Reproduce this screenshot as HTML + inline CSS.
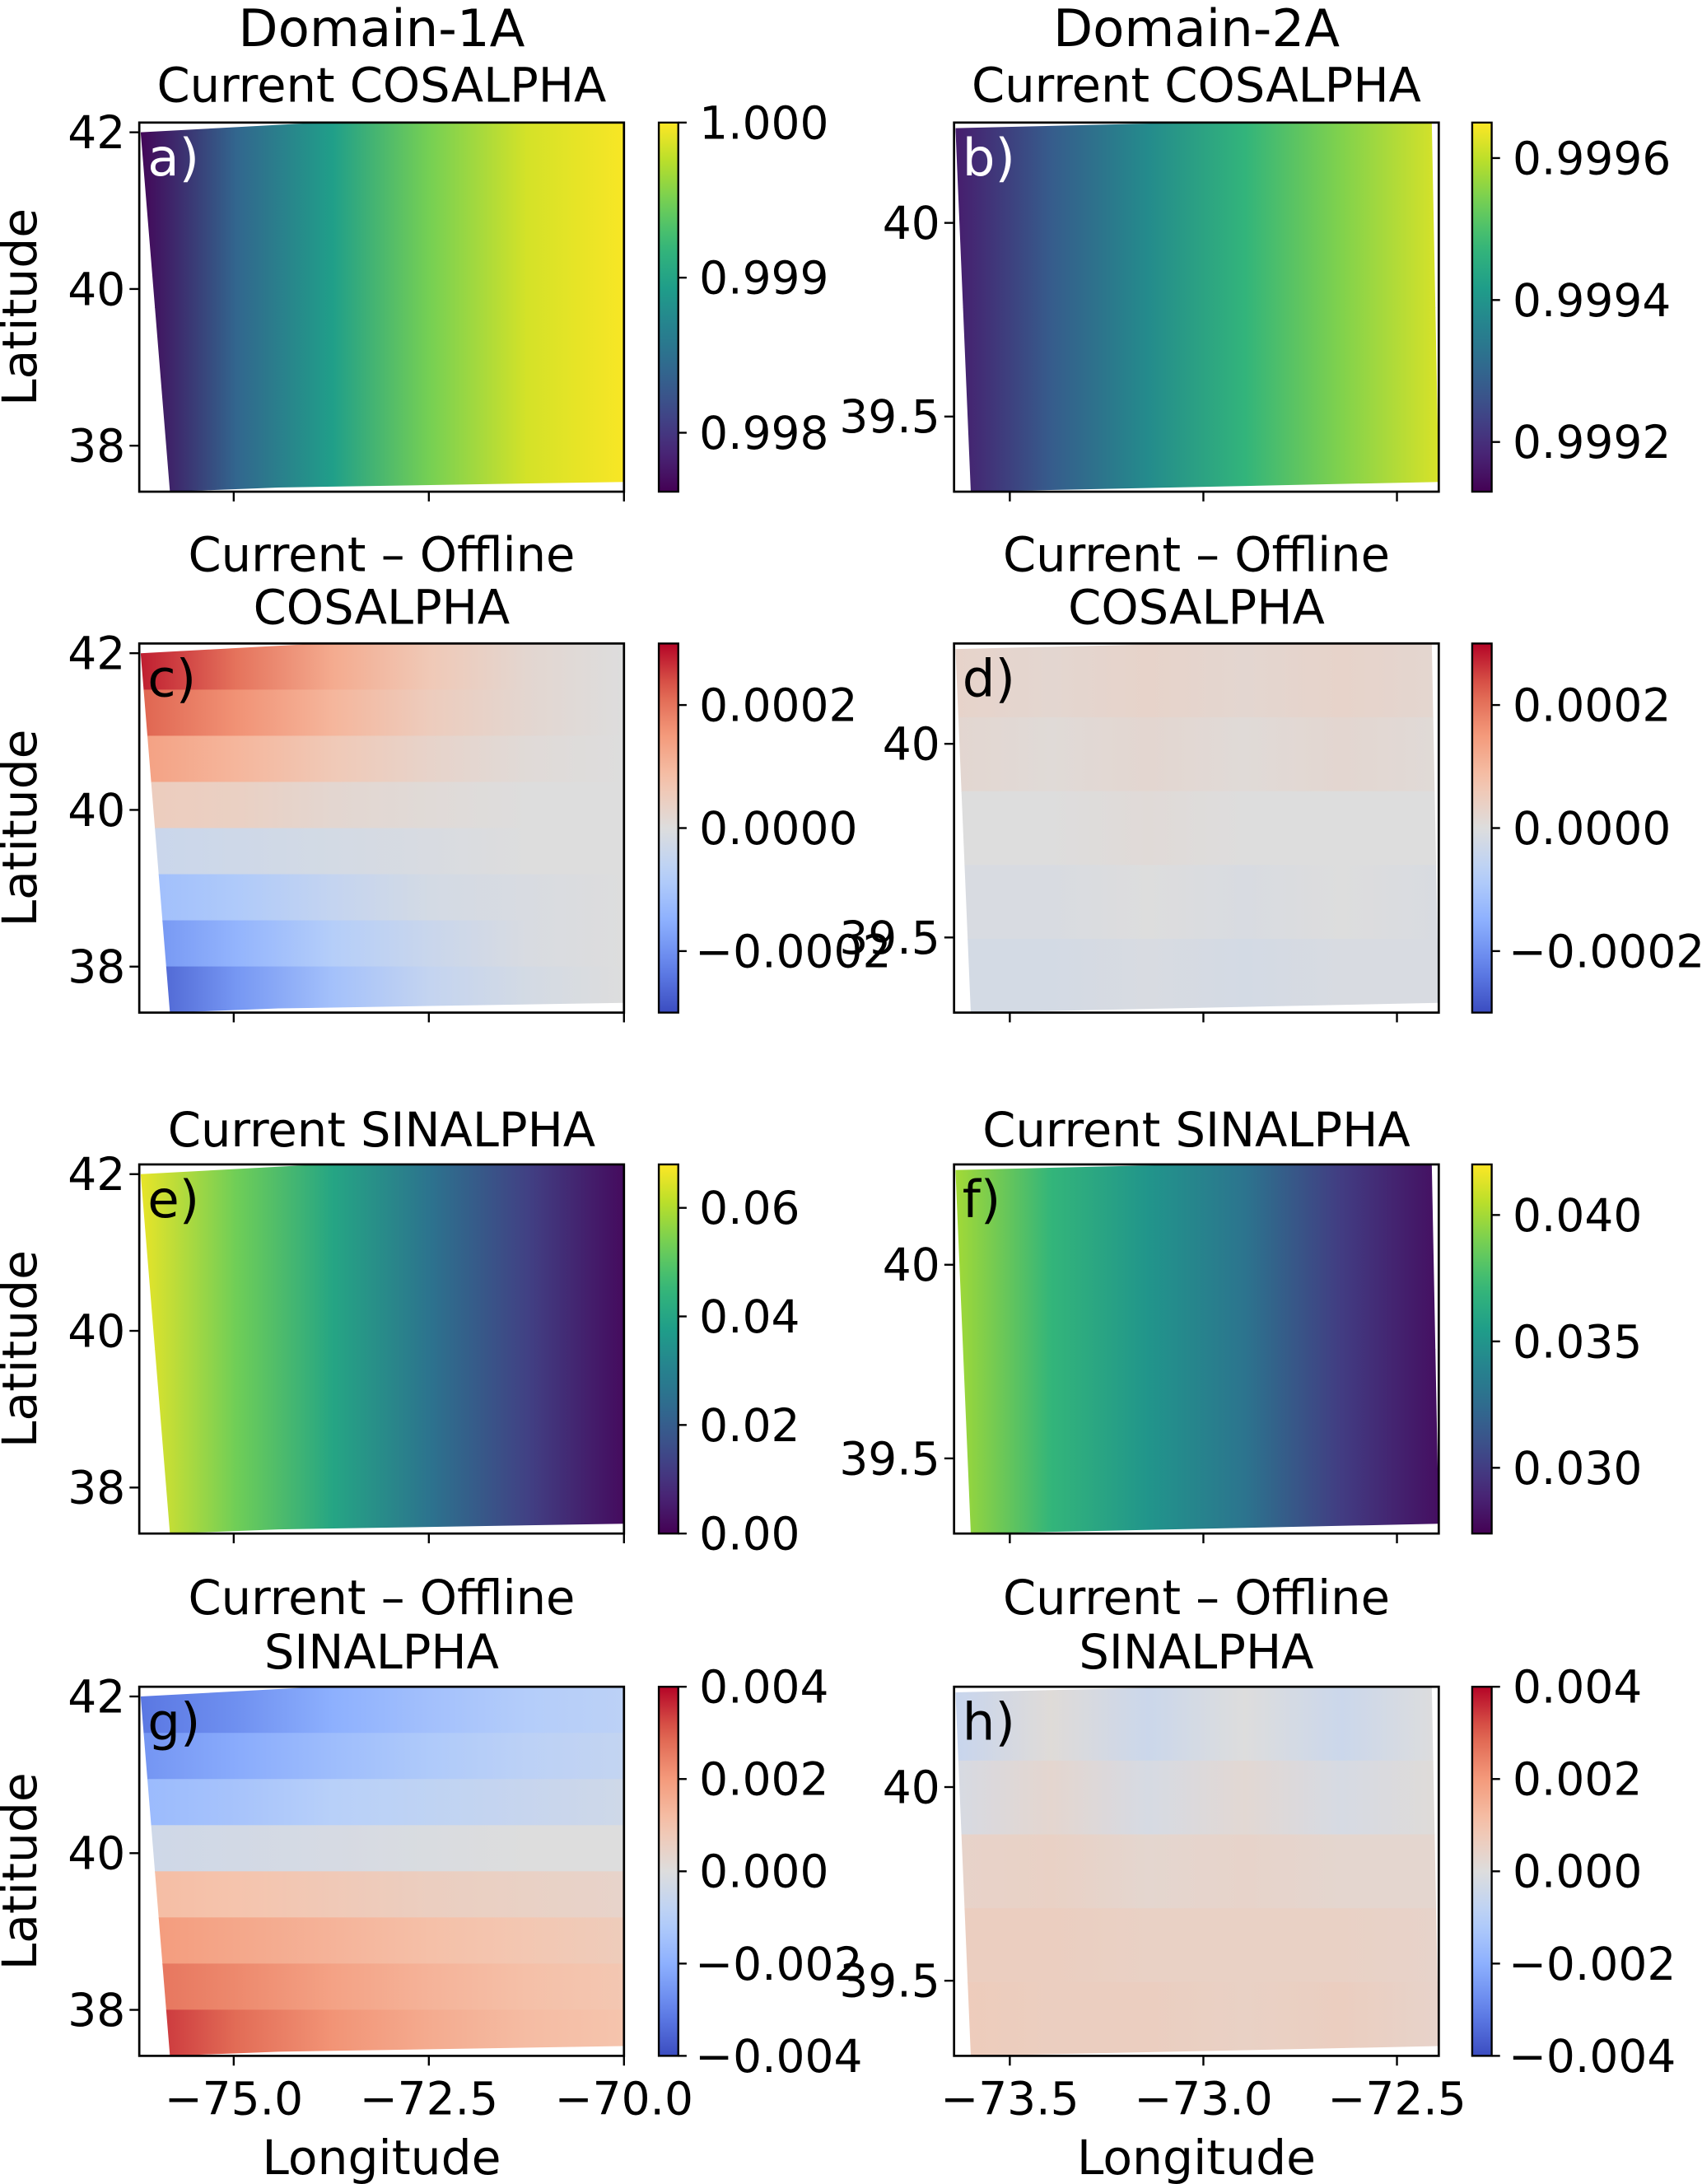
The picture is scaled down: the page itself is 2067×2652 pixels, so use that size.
<!DOCTYPE html>
<html><head><meta charset="utf-8">
<style>
html,body{margin:0;padding:0;background:#fff;}
svg{display:block;}
text{font-family:"DejaVu Sans","Liberation Sans",sans-serif;}
</style></head>
<body>
<svg id="fig" xmlns="http://www.w3.org/2000/svg" width="2067" height="2652" viewBox="0 0 1222 1568" preserveAspectRatio="none">
<defs id="defs"></defs>
<g id="root"></g>
</svg>
<script>
// ---- data (rows = latitude bands top→bottom, cols = longitude stops left→right) ----
const valsA = [[0.99765,0.99840,0.99895,0.99950,0.99985,0.99998],[0.99765,0.99840,0.99895,0.99950,0.99985,0.99998]];
const valsB = [[0.99917,0.99928,0.99938,0.99947,0.99955,0.99962],[0.99917,0.99928,0.99938,0.99947,0.99955,0.99962]];
const valsC = [[0.00028,0.00020,0.00012,0.00006,0.00002,0.0],[0.00022,0.00016,0.00010,0.00005,0.00002,0.0],[0.00014,0.00010,0.00006,0.00003,0.00001,0.0],[0.00005,0.00004,0.00002,0.00001,0.0,0.0],[-0.00004,-0.00003,-0.00002,-0.00001,0.0,0.0],[-0.00012,-0.00009,-0.00005,-0.00002,-0.00001,0.0],[-0.00020,-0.00014,-0.00008,-0.00004,-0.00001,0.0],[-0.00028,-0.00019,-0.00011,-0.00005,-0.00002,0.0]];
const valsD = [[0.00003,0.00002,0.00003,0.00002,0.00003,0.00002],[0.00002,0.00001,0.00002,0.00001,0.00002,0.00001],[0.0,0.0,0.00001,0.0,0.0,0.0],[-0.00001,-0.00001,0.0,-0.00001,0.0,-0.00001],[-0.00002,-0.00002,-0.00001,-0.00002,-0.00001,-0.00001]];
const valsE = [[0.066,0.053,0.040,0.026,0.013,0.002],[0.066,0.053,0.040,0.026,0.013,0.002]];
const valsF = [[0.040,0.037,0.035,0.033,0.030,0.028],[0.040,0.037,0.035,0.033,0.030,0.028]];
const valsG = [[-0.0032,-0.0027,-0.0020,-0.0015,-0.0011,-0.0009],[-0.0026,-0.0021,-0.0016,-0.0012,-0.0009,-0.0007],[-0.0017,-0.0014,-0.0010,-0.0008,-0.0006,-0.0004],[-0.0004,-0.0003,-0.0002,-0.0001,0.0,0.0],[0.0012,0.0010,0.0008,0.0006,0.0005,0.0004],[0.0020,0.0017,0.0014,0.0011,0.0009,0.0007],[0.0027,0.0023,0.0018,0.0014,0.0011,0.0009],[0.0036,0.0028,0.0021,0.0016,0.0012,0.0010]];
const valsH = [[-0.0006,0.0001,-0.0005,0.0000,-0.0005,0.0000],[-0.0002,0.0003,-0.0002,0.0002,-0.0002,0.0001],[0.0004,0.0005,0.0003,0.0004,0.0003,0.0003],[0.0006,0.0006,0.0005,0.0005,0.0005,0.0004],[0.0007,0.0006,0.0006,0.0005,0.0006,0.0004]];
// ticks
const lonTicks1 = [-75.0,-72.5,-70.0];
const lonTickLabels1 = ["\u221275.0","\u221272.5","\u221270.0"];
const lonTicks2 = [-73.5,-73.0,-72.5];
const lonTickLabels2 = ["\u221273.5","\u221273.0","\u221272.5"];
const latTicks1 = [42,40,38];
const latTicks2 = [40,39.5];
const latTickLabels2 = ["40","39.5"];
const cbTicksA = [1.000,0.999,0.998]; const cbLabA = ["1.000","0.999","0.998"];
const cbTicksB = [0.9996,0.9994,0.9992]; const cbLabB = ["0.9996","0.9994","0.9992"];
const cbTicksCD = [0.0002,0.0,-0.0002]; const cbLabCD = ["0.0002","0.0000","\u22120.0002"];
const cbTicksE = [0.06,0.04,0.02,0.00]; const cbLabE = ["0.06","0.04","0.02","0.00"];
const cbTicksF = [0.040,0.035,0.030]; const cbLabF = ["0.040","0.035","0.030"];
const cbTicksGH = [0.004,0.002,0.0,-0.002,-0.004]; const cbLabGH = ["0.004","0.002","0.000","\u22120.002","\u22120.004"];

// ---- colormaps ----
const viridis=[[68,1,84],[72,40,120],[62,74,137],[49,104,142],[38,130,142],[31,158,137],[53,183,121],[110,206,88],[181,222,43],[253,231,37]];
const coolwarm=[[59,76,192],[98,130,234],[141,176,254],[184,208,249],[221,221,221],[245,196,173],[244,154,123],[222,96,77],[180,4,38]];
function cmap(stops,t){t=Math.max(0,Math.min(1,t));const n=stops.length-1;const f=t*n;const i=Math.min(n-1,Math.floor(f));const r=f-i;
const a=stops[i],b=stops[i+1];return `rgb(${Math.round(a[0]+(b[0]-a[0])*r)},${Math.round(a[1]+(b[1]-a[1])*r)},${Math.round(a[2]+(b[2]-a[2])*r)})`;}

const NS="http://www.w3.org/2000/svg";
const root=document.getElementById('root');const defs=document.getElementById('defs');
function el(tag,attrs,parent){const e=document.createElementNS(NS,tag);for(const k in attrs)e.setAttribute(k,attrs[k]);(parent||root).appendChild(e);return e;}
function txt(s,x,y,size,anchor,parent,fill){const t=el('text',{x:x,y:y,'font-size':size,'text-anchor':anchor||'middle'},parent);t.style.fill=fill||'#000';t.textContent=s;return t;}

const colL=[100,685], AW=348, rowT=[88,462,836,1211], AH=265;
const lonRange=[[-76.21,-70.0],[-73.644,-72.392]];
const latRange=[[42.124,37.413],[40.259,39.306]];
const cbX=[473,1057], cbW=14;
const TF=32.5;
function xScale(c,lon){return colL[c]+(lon-lonRange[c][0])/(lonRange[c][1]-lonRange[c][0])*AW;}
function yScale(c,r,lat){return rowT[r]+(lat-latRange[c][0])/(latRange[c][1]-latRange[c][0])*AH;}

const panels=[
 {id:'a',c:0,r:0,vals:valsA,cm:viridis,vmin:0.99762,vmax:1.0,ticks:cbTicksA,labs:cbLabA,white:true},
 {id:'b',c:1,r:0,vals:valsB,cm:viridis,vmin:0.99913,vmax:0.99965,ticks:cbTicksB,labs:cbLabB,white:true},
 {id:'c',c:0,r:1,vals:valsC,cm:coolwarm,vmin:-0.0003,vmax:0.0003,ticks:cbTicksCD,labs:cbLabCD},
 {id:'d',c:1,r:1,vals:valsD,cm:coolwarm,vmin:-0.0003,vmax:0.0003,ticks:cbTicksCD,labs:cbLabCD},
 {id:'e',c:0,r:2,vals:valsE,cm:viridis,vmin:0.0,vmax:0.068,ticks:cbTicksE,labs:cbLabE},
 {id:'f',c:1,r:2,vals:valsF,cm:viridis,vmin:0.0274,vmax:0.042,ticks:cbTicksF,labs:cbLabF},
 {id:'g',c:0,r:3,vals:valsG,cm:coolwarm,vmin:-0.004,vmax:0.004,ticks:cbTicksGH,labs:cbLabGH},
 {id:'h',c:1,r:3,vals:valsH,cm:coolwarm,vmin:-0.004,vmax:0.004,ticks:cbTicksGH,labs:cbLabGH}
];
const clipShapes=[[[1,7],[130,0],[348,0],[348,258],[100,262],[22,265]],[[1,4],[170,0],[343,0],[348,258],[12,265]]];

panels.forEach(p=>{
  const x0=colL[p.c], y0=rowT[p.r];
  const g=el('g',{});
  
  
  const cp=el('clipPath',{id:'clip-'+p.id},defs);
  el('polygon',{points:clipShapes[p.c].map(q=>(x0+q[0])+','+(y0+q[1])).join(' ')},cp);
  const hm=el('g',{'clip-path':'url(#clip-'+p.id+')'},g);
  
  
  const nb=p.vals.length;
  const lr=lonRange[p.c], la=latRange[p.c];
  p.vals.forEach((row,i)=>{
    const gid='grad-'+p.id+'-'+i;
    const lg=el('linearGradient',{id:gid,x1:'0',y1:'0',x2:'1',y2:'0'},defs);
    row.forEach((v,j)=>{el('stop',{offset:(j/(row.length-1)),'stop-color':cmap(p.cm,(v-p.vmin)/(p.vmax-p.vmin))},lg);});
    const latA=la[0]+(la[1]-la[0])*i/nb, latB=la[0]+(la[1]-la[0])*(i+1)/nb;
    const ya=yScale(p.c,p.r,latA), yb=yScale(p.c,p.r,latB);
    const xa=xScale(p.c,lr[0]), xb=xScale(p.c,lr[1]);
    const rc=el('rect',{x:xa,y:ya,width:xb-xa,height:yb-ya+0.6,fill:'url(#'+gid+')'},hm);
    
    
  });
  const fr=el('rect',{x:x0,y:y0,width:AW,height:AH,fill:'none',stroke:'#000','stroke-width':1.6},g);
  
  
  const lt=p.c===0?lonTicks1:lonTicks2, ll=p.c===0?lonTickLabels1:lonTickLabels2;
  lt.forEach((v,k)=>{const x=xScale(p.c,v);el('line',{x1:x,y1:y0+AH,x2:x,y2:y0+AH+7,stroke:'#000','stroke-width':1.4},g);
    if(p.r===3){const t=txt(ll[k],x,y0+AH+42,TF,'middle',g);}});
  const yt=p.c===0?latTicks1:latTicks2;
  yt.forEach((v,k)=>{const y=yScale(p.c,p.r,v);el('line',{x1:x0,y1:y,x2:x0-7,y2:y,stroke:'#000','stroke-width':1.4},g);
    const lab=p.c===0?String(v):latTickLabels2[k];
    const t=txt(lab,x0-10,y+11.5,TF,'end',g);});
  const cb=el('g',{},g);
  const cg='cb-'+p.id;const lg=el('linearGradient',{id:cg,x1:'0',y1:'1',x2:'0',y2:'0'},defs);
  for(let k=0;k<=20;k++)el('stop',{offset:k/20,'stop-color':cmap(p.cm,k/20)},lg);
  el('rect',{x:cbX[p.c],y:y0,width:cbW,height:AH,fill:'url(#'+cg+')',stroke:'#000','stroke-width':1.4},cb);
  p.ticks.forEach((v,k)=>{const y=y0+AH-(v-p.vmin)/(p.vmax-p.vmin)*AH;const xr=cbX[p.c]+cbW;
    el('line',{x1:xr,y1:y,x2:xr+6,y2:y,stroke:'#000','stroke-width':1.4},cb);
    const t=txt(p.labs[k],xr+(p.labs[k][0]==='\u2212'?12:15),y+11.5,TF,'start',cb);});
  const pl=txt(p.id+')',x0+6,y0+38,37,'start',g,p.white?'#fff':'#000');
  
  
});

function lab(s,x,y,size,name){const t=txt(s,x,y,size,'middle');return t;}
lab('Domain-1A',274,33,37,'column-title-1');
lab('Domain-2A',859,33,37,'column-title-2');
[274,859].forEach((cx,i)=>{
  lab('Current COSALPHA',cx,73,34,'title-cos-'+i);
  lab('Current \u2013 Offline',cx,410,34,'title-diff-cos-l1-'+i);
  lab('COSALPHA',cx,448,34,'title-diff-cos-l2-'+i);
  lab('Current SINALPHA',cx,823,34,'title-sin-'+i);
  lab('Current \u2013 Offline',cx,1159,34,'title-diff-sin-l1-'+i);
  lab('SINALPHA',cx,1198,34,'title-diff-sin-l2-'+i);
  lab('Longitude',cx,1561,34.5,'x-axis-title-'+i);
});
rowT.forEach((t,i)=>{const cy=t+AH/2;const e=txt('Latitude',0,0,34.5,'middle');e.setAttribute('transform','translate(26,'+cy+') rotate(-90)');
  
  });
</script>
</body></html>
